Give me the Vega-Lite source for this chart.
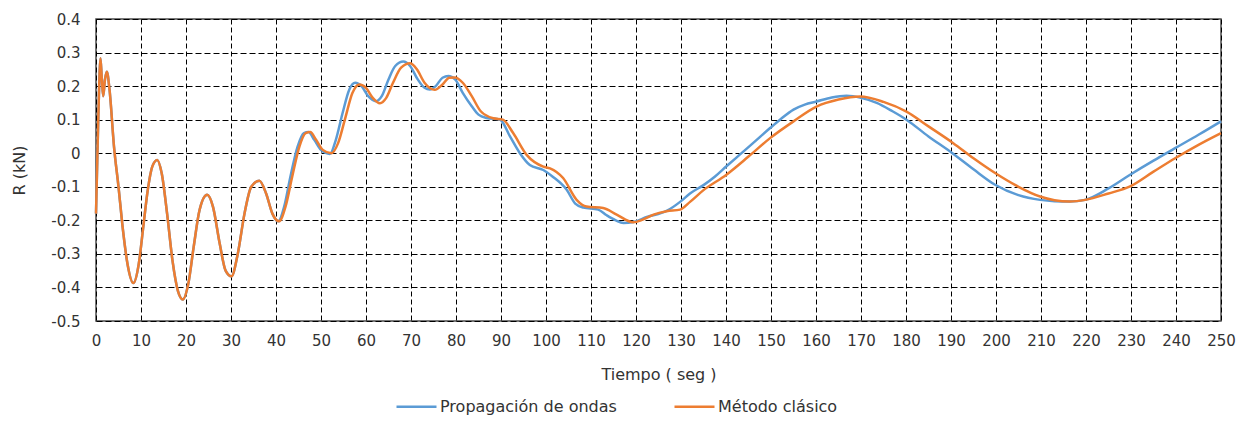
{
  "$schema": "https://vega.github.io/schema/vega-lite/v6.json",
  "autosize": {"type": "none"},
  "width": 1125,
  "height": 302,
  "padding": {"left": 96, "top": 19, "right": 26, "bottom": 100},
  "background": "white",
  "config": {
    "font": "DejaVu Sans",
    "view": {"stroke": "#4a4a4a", "strokeWidth": 1.5}
  },
  "datasets": {
    "pts": [
      {"t": 0, "r": -0.18, "s": "Propagación de ondas"},
      {"t": 0.5, "r": 0.1, "s": "Propagación de ondas"},
      {"t": 1.0, "r": 0.283, "s": "Propagación de ondas"},
      {"t": 1.3, "r": 0.22, "s": "Propagación de ondas"},
      {"t": 1.6, "r": 0.17, "s": "Propagación de ondas"},
      {"t": 2.0, "r": 0.22, "s": "Propagación de ondas"},
      {"t": 2.4, "r": 0.243, "s": "Propagación de ondas"},
      {"t": 3.0, "r": 0.19, "s": "Propagación de ondas"},
      {"t": 4.0, "r": 0.02, "s": "Propagación de ondas"},
      {"t": 5.0, "r": -0.1, "s": "Propagación de ondas"},
      {"t": 6.0, "r": -0.23, "s": "Propagación de ondas"},
      {"t": 7.0, "r": -0.33, "s": "Propagación de ondas"},
      {"t": 8.3, "r": -0.387, "s": "Propagación de ondas"},
      {"t": 9.5, "r": -0.33, "s": "Propagación de ondas"},
      {"t": 10.5, "r": -0.22, "s": "Propagación de ondas"},
      {"t": 11.5, "r": -0.11, "s": "Propagación de ondas"},
      {"t": 12.5, "r": -0.04, "s": "Propagación de ondas"},
      {"t": 13.6, "r": -0.02, "s": "Propagación de ondas"},
      {"t": 14.6, "r": -0.06, "s": "Propagación de ondas"},
      {"t": 15.8, "r": -0.18, "s": "Propagación de ondas"},
      {"t": 17.0, "r": -0.32, "s": "Propagación de ondas"},
      {"t": 18.2, "r": -0.41, "s": "Propagación de ondas"},
      {"t": 19.3, "r": -0.436, "s": "Propagación de ondas"},
      {"t": 20.5, "r": -0.39, "s": "Propagación de ondas"},
      {"t": 21.7, "r": -0.28, "s": "Propagación de ondas"},
      {"t": 23.0, "r": -0.17, "s": "Propagación de ondas"},
      {"t": 24.7, "r": -0.124, "s": "Propagación de ondas"},
      {"t": 26.0, "r": -0.16, "s": "Propagación de ondas"},
      {"t": 27.5, "r": -0.27, "s": "Propagación de ondas"},
      {"t": 28.8, "r": -0.35, "s": "Propagación de ondas"},
      {"t": 30.1, "r": -0.367, "s": "Propagación de ondas"},
      {"t": 31.5, "r": -0.3, "s": "Propagación de ondas"},
      {"t": 33.0, "r": -0.18, "s": "Propagación de ondas"},
      {"t": 34.5, "r": -0.1, "s": "Propagación de ondas"},
      {"t": 36.3, "r": -0.082, "s": "Propagación de ondas"},
      {"t": 37.8, "r": -0.12, "s": "Propagación de ondas"},
      {"t": 39.2, "r": -0.18, "s": "Propagación de ondas"},
      {"t": 40.5, "r": -0.203, "s": "Propagación de ondas"},
      {"t": 41.8, "r": -0.16, "s": "Propagación de ondas"},
      {"t": 43.2, "r": -0.07, "s": "Propagación de ondas"},
      {"t": 44.8, "r": 0.02, "s": "Propagación de ondas"},
      {"t": 46.2, "r": 0.06, "s": "Propagación de ondas"},
      {"t": 47.2, "r": 0.063, "s": "Propagación de ondas"},
      {"t": 48.5, "r": 0.04, "s": "Propagación de ondas"},
      {"t": 50.0, "r": 0.01, "s": "Propagación de ondas"},
      {"t": 52.0, "r": -0.002, "s": "Propagación de ondas"},
      {"t": 53.3, "r": 0.04, "s": "Propagación de ondas"},
      {"t": 54.8, "r": 0.12, "s": "Propagación de ondas"},
      {"t": 56.3, "r": 0.19, "s": "Propagación de ondas"},
      {"t": 57.6, "r": 0.21, "s": "Propagación de ondas"},
      {"t": 59.0, "r": 0.2, "s": "Propagación de ondas"},
      {"t": 60.5, "r": 0.17, "s": "Propagación de ondas"},
      {"t": 62.2, "r": 0.155, "s": "Propagación de ondas"},
      {"t": 63.5, "r": 0.17, "s": "Propagación de ondas"},
      {"t": 65.0, "r": 0.22, "s": "Propagación de ondas"},
      {"t": 66.5, "r": 0.26, "s": "Propagación de ondas"},
      {"t": 68.3, "r": 0.273, "s": "Propagación de ondas"},
      {"t": 69.8, "r": 0.26, "s": "Propagación de ondas"},
      {"t": 71.5, "r": 0.22, "s": "Propagación de ondas"},
      {"t": 73.0, "r": 0.195, "s": "Propagación de ondas"},
      {"t": 74.2, "r": 0.19, "s": "Propagación de ondas"},
      {"t": 75.5, "r": 0.2, "s": "Propagación de ondas"},
      {"t": 77.0, "r": 0.225, "s": "Propagación de ondas"},
      {"t": 78.3, "r": 0.23, "s": "Propagación de ondas"},
      {"t": 79.8, "r": 0.22, "s": "Propagación de ondas"},
      {"t": 81.5, "r": 0.18, "s": "Propagación de ondas"},
      {"t": 83.5, "r": 0.14, "s": "Propagación de ondas"},
      {"t": 85.0, "r": 0.115, "s": "Propagación de ondas"},
      {"t": 86.8, "r": 0.105, "s": "Propagación de ondas"},
      {"t": 89.8, "r": 0.1, "s": "Propagación de ondas"},
      {"t": 92.0, "r": 0.05, "s": "Propagación de ondas"},
      {"t": 94.2, "r": 0.0, "s": "Propagación de ondas"},
      {"t": 96.4, "r": -0.035, "s": "Propagación de ondas"},
      {"t": 99.4, "r": -0.05, "s": "Propagación de ondas"},
      {"t": 101.5, "r": -0.07, "s": "Propagación de ondas"},
      {"t": 104.6, "r": -0.109, "s": "Propagación de ondas"},
      {"t": 106.5, "r": -0.15, "s": "Propagación de ondas"},
      {"t": 108.3, "r": -0.162, "s": "Propagación de ondas"},
      {"t": 111.6, "r": -0.168, "s": "Propagación de ondas"},
      {"t": 113.5, "r": -0.185, "s": "Propagación de ondas"},
      {"t": 115.5, "r": -0.2, "s": "Propagación de ondas"},
      {"t": 117.2, "r": -0.208, "s": "Propagación de ondas"},
      {"t": 119.4, "r": -0.205, "s": "Propagación de ondas"},
      {"t": 122.4, "r": -0.19, "s": "Propagación de ondas"},
      {"t": 126.8, "r": -0.172, "s": "Propagación de ondas"},
      {"t": 129.8, "r": -0.145, "s": "Propagación de ondas"},
      {"t": 132.0, "r": -0.12, "s": "Propagación de ondas"},
      {"t": 135.0, "r": -0.095, "s": "Propagación de ondas"},
      {"t": 137.5, "r": -0.07, "s": "Propagación de ondas"},
      {"t": 140.1, "r": -0.039, "s": "Propagación de ondas"},
      {"t": 143.0, "r": -0.005, "s": "Propagación de ondas"},
      {"t": 146.0, "r": 0.03, "s": "Propagación de ondas"},
      {"t": 149.8, "r": 0.075, "s": "Propagación de ondas"},
      {"t": 152.0, "r": 0.1, "s": "Propagación de ondas"},
      {"t": 155.0, "r": 0.13, "s": "Propagación de ondas"},
      {"t": 157.5, "r": 0.145, "s": "Propagación de ondas"},
      {"t": 160.1, "r": 0.154, "s": "Propagación de ondas"},
      {"t": 163.5, "r": 0.166, "s": "Propagación de ondas"},
      {"t": 166.8, "r": 0.171, "s": "Propagación de ondas"},
      {"t": 170.0, "r": 0.165, "s": "Propagación de ondas"},
      {"t": 173.5, "r": 0.15, "s": "Propagación de ondas"},
      {"t": 177.0, "r": 0.125, "s": "Propagación de ondas"},
      {"t": 180.1, "r": 0.1, "s": "Propagación de ondas"},
      {"t": 185.0, "r": 0.05, "s": "Propagación de ondas"},
      {"t": 189.8, "r": 0.005, "s": "Propagación de ondas"},
      {"t": 195.0, "r": -0.048, "s": "Propagación de ondas"},
      {"t": 199.8, "r": -0.094, "s": "Propagación de ondas"},
      {"t": 205.0, "r": -0.125, "s": "Propagación de ondas"},
      {"t": 209.8, "r": -0.139, "s": "Propagación de ondas"},
      {"t": 213.0, "r": -0.143, "s": "Propagación de ondas"},
      {"t": 216.4, "r": -0.144, "s": "Propagación de ondas"},
      {"t": 219.8, "r": -0.139, "s": "Propagación de ondas"},
      {"t": 225.0, "r": -0.105, "s": "Propagación de ondas"},
      {"t": 229.8, "r": -0.064, "s": "Propagación de ondas"},
      {"t": 235.0, "r": -0.022, "s": "Propagación de ondas"},
      {"t": 239.8, "r": 0.015, "s": "Propagación de ondas"},
      {"t": 245.0, "r": 0.055, "s": "Propagación de ondas"},
      {"t": 250.0, "r": 0.095, "s": "Propagación de ondas"},

      {"t": 0, "r": -0.18, "s": "Método clásico"},
      {"t": 0.5, "r": 0.1, "s": "Método clásico"},
      {"t": 1.0, "r": 0.283, "s": "Método clásico"},
      {"t": 1.3, "r": 0.22, "s": "Método clásico"},
      {"t": 1.6, "r": 0.17, "s": "Método clásico"},
      {"t": 2.0, "r": 0.22, "s": "Método clásico"},
      {"t": 2.4, "r": 0.243, "s": "Método clásico"},
      {"t": 3.0, "r": 0.19, "s": "Método clásico"},
      {"t": 4.0, "r": 0.02, "s": "Método clásico"},
      {"t": 5.0, "r": -0.1, "s": "Método clásico"},
      {"t": 6.0, "r": -0.23, "s": "Método clásico"},
      {"t": 7.0, "r": -0.33, "s": "Método clásico"},
      {"t": 8.3, "r": -0.387, "s": "Método clásico"},
      {"t": 9.5, "r": -0.33, "s": "Método clásico"},
      {"t": 10.5, "r": -0.22, "s": "Método clásico"},
      {"t": 11.5, "r": -0.11, "s": "Método clásico"},
      {"t": 12.5, "r": -0.04, "s": "Método clásico"},
      {"t": 13.6, "r": -0.02, "s": "Método clásico"},
      {"t": 14.6, "r": -0.06, "s": "Método clásico"},
      {"t": 15.8, "r": -0.18, "s": "Método clásico"},
      {"t": 17.0, "r": -0.32, "s": "Método clásico"},
      {"t": 18.2, "r": -0.41, "s": "Método clásico"},
      {"t": 19.3, "r": -0.436, "s": "Método clásico"},
      {"t": 20.5, "r": -0.39, "s": "Método clásico"},
      {"t": 21.7, "r": -0.28, "s": "Método clásico"},
      {"t": 23.0, "r": -0.17, "s": "Método clásico"},
      {"t": 24.7, "r": -0.124, "s": "Método clásico"},
      {"t": 26.0, "r": -0.16, "s": "Método clásico"},
      {"t": 27.5, "r": -0.27, "s": "Método clásico"},
      {"t": 28.8, "r": -0.35, "s": "Método clásico"},
      {"t": 30.1, "r": -0.367, "s": "Método clásico"},
      {"t": 31.5, "r": -0.3, "s": "Método clásico"},
      {"t": 33.0, "r": -0.18, "s": "Método clásico"},
      {"t": 34.5, "r": -0.1, "s": "Método clásico"},
      {"t": 36.3, "r": -0.082, "s": "Método clásico"},
      {"t": 37.8, "r": -0.12, "s": "Método clásico"},
      {"t": 39.2, "r": -0.18, "s": "Método clásico"},
      {"t": 40.7, "r": -0.203, "s": "Método clásico"},
      {"t": 42.1, "r": -0.16, "s": "Método clásico"},
      {"t": 43.6, "r": -0.07, "s": "Método clásico"},
      {"t": 45.2, "r": 0.02, "s": "Método clásico"},
      {"t": 46.6, "r": 0.06, "s": "Método clásico"},
      {"t": 47.6, "r": 0.063, "s": "Método clásico"},
      {"t": 48.9, "r": 0.04, "s": "Método clásico"},
      {"t": 50.4, "r": 0.01, "s": "Método clásico"},
      {"t": 52.3, "r": 0.0, "s": "Método clásico"},
      {"t": 53.8, "r": 0.03, "s": "Método clásico"},
      {"t": 55.3, "r": 0.1, "s": "Método clásico"},
      {"t": 57.0, "r": 0.18, "s": "Método clásico"},
      {"t": 58.5, "r": 0.205, "s": "Método clásico"},
      {"t": 60.0, "r": 0.195, "s": "Método clásico"},
      {"t": 61.5, "r": 0.165, "s": "Método clásico"},
      {"t": 63.1, "r": 0.149, "s": "Método clásico"},
      {"t": 64.5, "r": 0.165, "s": "Método clásico"},
      {"t": 66.0, "r": 0.21, "s": "Método clásico"},
      {"t": 67.8, "r": 0.255, "s": "Método clásico"},
      {"t": 69.8, "r": 0.268, "s": "Método clásico"},
      {"t": 71.3, "r": 0.25, "s": "Método clásico"},
      {"t": 73.0, "r": 0.21, "s": "Método clásico"},
      {"t": 75.3, "r": 0.189, "s": "Método clásico"},
      {"t": 77.0, "r": 0.205, "s": "Método clásico"},
      {"t": 78.5, "r": 0.225, "s": "Método clásico"},
      {"t": 79.8, "r": 0.226, "s": "Método clásico"},
      {"t": 81.5, "r": 0.21, "s": "Método clásico"},
      {"t": 83.5, "r": 0.17, "s": "Método clásico"},
      {"t": 85.5, "r": 0.125, "s": "Método clásico"},
      {"t": 88.3, "r": 0.104, "s": "Método clásico"},
      {"t": 90.4, "r": 0.1, "s": "Método clásico"},
      {"t": 92.7, "r": 0.06, "s": "Método clásico"},
      {"t": 95.7, "r": -0.005, "s": "Método clásico"},
      {"t": 99.4, "r": -0.04, "s": "Método clásico"},
      {"t": 100.9, "r": -0.045, "s": "Método clásico"},
      {"t": 103.8, "r": -0.074, "s": "Método clásico"},
      {"t": 106.8, "r": -0.139, "s": "Método clásico"},
      {"t": 109.0, "r": -0.159, "s": "Método clásico"},
      {"t": 112.7, "r": -0.163, "s": "Método clásico"},
      {"t": 115.7, "r": -0.183, "s": "Método clásico"},
      {"t": 119.4, "r": -0.206, "s": "Método clásico"},
      {"t": 121.5, "r": -0.198, "s": "Método clásico"},
      {"t": 123.9, "r": -0.183, "s": "Método clásico"},
      {"t": 126.8, "r": -0.173, "s": "Método clásico"},
      {"t": 129.8, "r": -0.168, "s": "Método clásico"},
      {"t": 132.0, "r": -0.145, "s": "Método clásico"},
      {"t": 135.0, "r": -0.11, "s": "Método clásico"},
      {"t": 140.1, "r": -0.064, "s": "Método clásico"},
      {"t": 145.0, "r": -0.01, "s": "Método clásico"},
      {"t": 149.8, "r": 0.045, "s": "Método clásico"},
      {"t": 155.0, "r": 0.095, "s": "Método clásico"},
      {"t": 160.1, "r": 0.139, "s": "Método clásico"},
      {"t": 165.0, "r": 0.16, "s": "Método clásico"},
      {"t": 169.8, "r": 0.169, "s": "Método clásico"},
      {"t": 175.0, "r": 0.153, "s": "Método clásico"},
      {"t": 180.1, "r": 0.124, "s": "Método clásico"},
      {"t": 185.0, "r": 0.08, "s": "Método clásico"},
      {"t": 190.5, "r": 0.03, "s": "Método clásico"},
      {"t": 195.0, "r": -0.015, "s": "Método clásico"},
      {"t": 199.8, "r": -0.059, "s": "Método clásico"},
      {"t": 205.0, "r": -0.1, "s": "Método clásico"},
      {"t": 209.8, "r": -0.129, "s": "Método clásico"},
      {"t": 213.0, "r": -0.14, "s": "Método clásico"},
      {"t": 216.4, "r": -0.144, "s": "Método clásico"},
      {"t": 219.8, "r": -0.139, "s": "Método clásico"},
      {"t": 225.0, "r": -0.12, "s": "Método clásico"},
      {"t": 229.8, "r": -0.099, "s": "Método clásico"},
      {"t": 235.0, "r": -0.055, "s": "Método clásico"},
      {"t": 239.8, "r": -0.015, "s": "Método clásico"},
      {"t": 245.0, "r": 0.025, "s": "Método clásico"},
      {"t": 250.0, "r": 0.06, "s": "Método clásico"}
    ]
  },
  "data": {"name": "pts"},
  "encoding": {
    "x": {
      "field": "t", "type": "quantitative",
      "scale": {"domain": [0, 250], "nice": false, "zero": false},
      "axis": {
        "values": [0,10,20,30,40,50,60,70,80,90,100,110,120,130,140,150,160,170,180,190,200,210,220,230,240,250],
        "title": "Tiempo ( seg )",
        "titleFont": "DejaVu Sans", "titleFontSize": 16, "titleFontWeight": "normal", "titleColor": "#333333", "titlePadding": 18,
        "labelFont": "DejaVu Sans", "labelFontSize": 15, "labelColor": "#333333", "labelPadding": 12,
        "labelFlush": false, "labelOverlap": false,
        "ticks": false, "domain": false,
        "grid": true, "gridColor": "#000000", "gridDash": [5, 3], "gridWidth": 1
      }
    },
    "y": {
      "field": "r", "type": "quantitative",
      "scale": {"domain": [-0.5, 0.4], "nice": false, "zero": false},
      "axis": {
        "values": [-0.5,-0.4,-0.3,-0.2,-0.1,0,0.1,0.2,0.3,0.4],
        "labelExpr": "toString(round(datum.value*10)/10)",
        "title": "R (kN)",
        "titleFont": "DejaVu Sans", "titleFontSize": 16, "titleFontWeight": "normal", "titleColor": "#333333", "titlePadding": 23,
        "labelFont": "DejaVu Sans", "labelFontSize": 15, "labelColor": "#333333", "labelPadding": 16,
        "labelFlush": false, "labelOverlap": false,
        "ticks": false, "domain": false,
        "grid": true, "gridColor": "#000000", "gridDash": [6, 3], "gridWidth": 1
      }
    },
    "color": {
      "field": "s", "type": "nominal",
      "scale": {"domain": ["Propagación de ondas", "Método clásico"], "range": ["#5B9BD5", "#ED7D31"]},
      "legend": {
        "title": null, "orient": "none", "direction": "horizontal",
        "legendX": 299, "legendY": 366,
        "symbolType": "stroke", "symbolSize": 1600, "symbolStrokeWidth": 2.5,
        "labelFont": "DejaVu Sans", "labelFontSize": 16, "labelColor": "#333333", "labelLimit": 400,
        "labelOffset": 2, "columnPadding": 52, "padding": 0
      }
    }
  },
  "layer": [
    {
      "transform": [{"filter": "datum.s == 'Propagación de ondas'"}],
      "mark": {"type": "line", "strokeWidth": 2.5, "interpolate": "monotone"}
    },
    {
      "transform": [{"filter": "datum.s == 'Método clásico'"}],
      "mark": {"type": "line", "strokeWidth": 2.5, "interpolate": "monotone"}
    }
  ]
}
